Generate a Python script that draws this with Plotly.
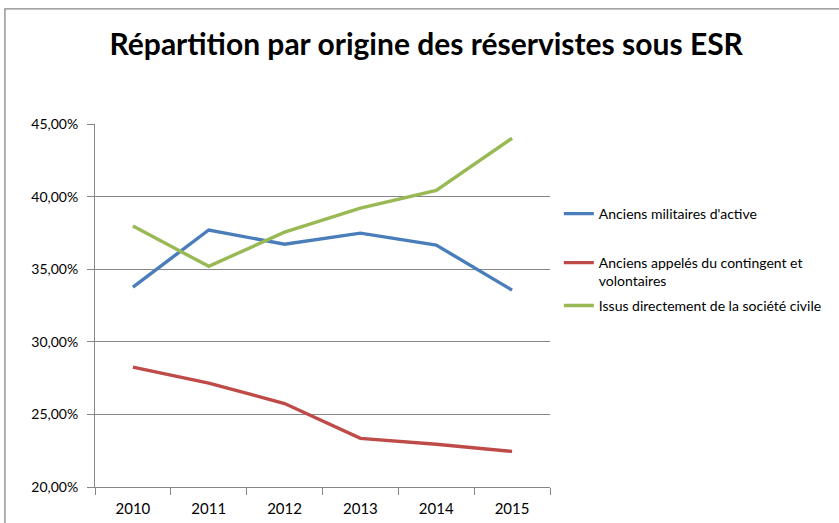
import plotly.graph_objects as go

years = ["2010", "2011", "2012", "2013", "2014", "2015"]
militaires = [33.77, 37.70, 36.72, 37.48, 36.66, 33.56]
appeles = [28.26, 27.15, 25.75, 23.35, 22.94, 22.45]
civile = [37.97, 35.20, 37.55, 39.20, 40.43, 44.02]

names = ["Anciens militaires d'active",
         "Anciens appelés du contingent et<br>volontaires",
         "Issus directement de la société civile"]
colors = ["#4A7EBB", "#BE4B48", "#98B954"]
series = [militaires, appeles, civile]
legends = ["legend", "legend2", "legend3"]

FONT = "Lato"

fig = go.Figure()
for name, vals, col, lg in zip(names, series, colors, legends):
    fig.add_trace(go.Scatter(x=years, y=vals, name=name, mode="lines",
                             line=dict(color=col, width=3.4), legend=lg,
                             showlegend=True))

leg_common = dict(x=1.0194, xanchor="left", yanchor="top", bgcolor="rgba(0,0,0,0)",
                  font=dict(family=FONT, size=14, color="#000000"), valign="top",
                  itemwidth=30)

fig.update_layout(
    width=839, height=523,
    margin=dict(l=95, r=289, t=124, b=36),
    paper_bgcolor="white", plot_bgcolor="white",
    separators=", ",
    showlegend=True,
    title=dict(text="<b>Répartition par origine des réservistes sous ESR</b>",
               x=0.508, xanchor="center", y=0.915, yanchor="middle",
               font=dict(family=FONT, size=30, color="#000000")),
    xaxis=dict(type="category", range=[-0.5, 5.5], showgrid=False, showline=True,
               linecolor="#868686", linewidth=1, ticks="outside", tickson="boundaries",
               ticklen=7, tickcolor="#868686", automargin=False,
               tickfont=dict(family=FONT, size=15, color="#000000"),
               ticklabelstandoff=8),
    yaxis=dict(range=[20, 45], dtick=5, tick0=20, tickformat=".2f", ticksuffix="%",
               showgrid=True, gridcolor="#868686", gridwidth=1, showline=True,
               linecolor="#868686", ticks="outside", ticklen=7, tickcolor="#868686",
               tickfont=dict(family=FONT, size=14, color="#000000"), zeroline=False,
               ticklabelstandoff=6, automargin=False),
    legend=dict(y=0.796, **leg_common),
    legend2=dict(y=0.661, **leg_common),
    legend3=dict(y=0.543, **leg_common),
    shapes=[dict(type="rect", xref="paper", yref="paper", x0=-0.198, x1=1.8,
                 y0=-0.3, y1=1.317, line=dict(color="#888888", width=1.3),
                 fillcolor="rgba(0,0,0,0)", layer="below")],
)

fig.write_html("out.html", config={"displayModeBar": False},
               post_script="document.body.style.margin='0';")
